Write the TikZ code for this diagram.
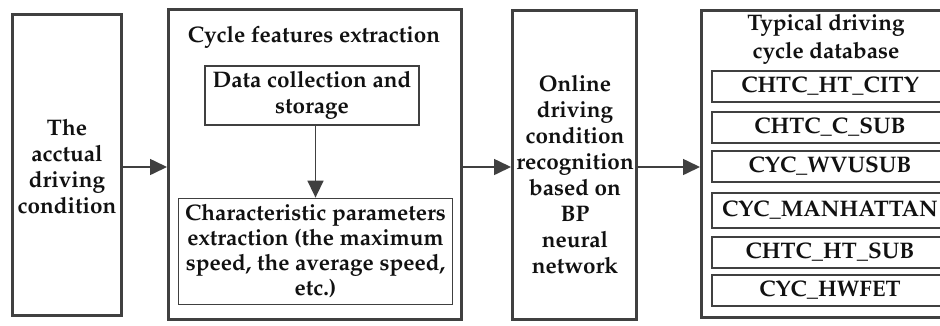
\documentclass[tikz,border=0pt]{standalone}
\usepackage[T1]{fontenc}
\usepackage{mathpazo}
\usetikzlibrary{arrows.meta}
\definecolor{edge}{HTML}{404040}
\definecolor{ink}{HTML}{111111}
\begin{document}
\begin{tikzpicture}[x=1pt,y=-1pt,
  every node/.style={text=ink,font=\fontsize{22.5}{26}\selectfont\bfseries,inner sep=0pt},
  outerbox/.style={draw=edge,line width=3pt,rectangle},
  innerbox/.style={draw=edge,line width=1.8pt,rectangle},
  label/.style={align=center},
  arr/.style={draw=edge,line width=1.6pt,-{Triangle[length=17pt,width=16pt]}}]
\useasboundingbox (0,0) rectangle (940,325);
\clip (0,0) rectangle (940,325);
\fill[white] (0,0) rectangle (940,325);

% stage boxes
\node[outerbox,minimum width=109pt,minimum height=301pt] (b1) at (67,165) {};
\node[outerbox,minimum width=293pt,minimum height=310pt] (b2) at (315,164.5) {};
\node[outerbox,minimum width=124pt,minimum height=309pt] (b3) at (574.5,165) {};
\node[outerbox,minimum width=260pt,minimum height=307pt] (b4) at (831.5,164) {};

% stage texts
\node[label] (t1) at (67,166) {The\\acctual\\driving\\condition};
\node[label] (t2) at (314,37) {Cycle features extraction};
\node[label] (t3) at (575,174) {Online\\driving\\condition\\recognition\\based on\\BP\\neural\\network};
\node[label,font=\fontsize{22.5}{28}\selectfont\bfseries] (t4) at (826,39) {Typical driving\\cycle database};

% feature extraction steps
\node[innerbox,label,minimum width=214.5pt,minimum height=58.5pt] (s1) at (312,95.5)
  {Data collection and\\storage};
\node[innerbox,label,minimum width=274pt,minimum height=106pt,
  font=\fontsize{22.5}{25}\selectfont\bfseries] (s2) at (315.5,251.5)
  {Characteristic parameters\\extraction (the maximum\\speed, the average speed,\\etc.)};

% driving cycle entries
\node[innerbox,minimum width=236pt,minimum height=31pt] (c1) at (830,86.5) {CHTC\_HT\_CITY};
\node[innerbox,minimum width=236pt,minimum height=31pt] (c2) at (830,127.5) {CHTC\_C\_SUB};
\node[innerbox,minimum width=236pt,minimum height=31pt] (c3) at (830,166.5) {CYC\_WVUSUB};
\node[innerbox,minimum width=236pt,minimum height=35pt] (c4) at (830,210.5) {CYC\_MANHATTAN};
\node[innerbox,minimum width=236pt,minimum height=31pt] (c5) at (830,252.5) {CHTC\_HT\_SUB};
\node[innerbox,minimum width=236pt,minimum height=31pt] (c6) at (830,290.5) {CYC\_HWFET};

% connectors
\draw[arr] (b1.east |- 0,167) -- (b2.west |- 0,167);
\draw[arr] (b2.east |- 0,167) -- (b3.west |- 0,167);
\draw[arr] (b3.east |- 0,167) -- (b4.west |- 0,167);
\draw[arr] (s1.south -| s2.north) -- (s2.north);
\end{tikzpicture}
\end{document}
